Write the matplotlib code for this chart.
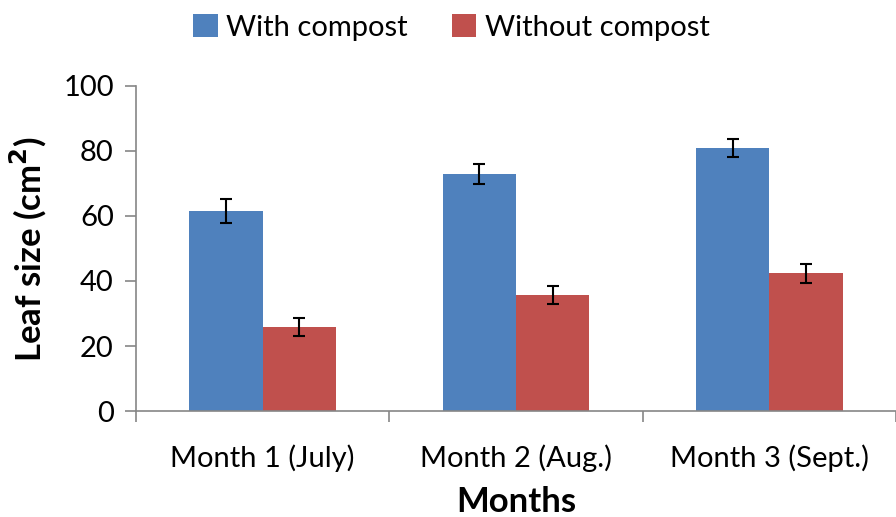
import matplotlib.pyplot as plt
import numpy as np

plt.rcParams['font.family'] = ['Lato', 'DejaVu Sans']

months = ['Month 1 (July)', 'Month 2 (Aug.)', 'Month 3 (Sept.)']
with_compost = [61.5, 72.8, 80.9]
with_err = [3.6, 3.1, 2.9]
without_compost = [25.8, 35.7, 42.4]
without_err = [2.8, 2.7, 2.9]

fig = plt.figure(figsize=(8.96, 5.17), dpi=100)
ax = fig.add_axes([0.1518, 0.205, 0.8482, 0.6287])

x = np.arange(len(months))
w = 0.29
err_kw = dict(ecolor='black', elinewidth=1.5, capsize=4.5, capthick=1.5)
ax.bar(x - w / 2, with_compost, w, yerr=with_err, color='#4F81BD',
       label='With compost', error_kw=err_kw)
ax.bar(x + w / 2, without_compost, w, yerr=without_err, color='#C0504D',
       label='Without compost', error_kw=err_kw)

ax.set_xlim(-0.5, 2.5)
ax.set_ylim(0, 100)
ax.set_yticks(range(0, 101, 20))
ax.set_xticks(x)
ax.set_xticklabels(months, fontsize=21)
ax.set_xticks(np.arange(-0.5, 3, 1), minor=True)
ax.tick_params(axis='x', which='major', length=0, pad=24)
ax.tick_params(axis='x', which='minor', length=8, width=1.2, color='#868686')
ax.tick_params(axis='y', length=8, width=1.2, color='#868686', labelsize=21, pad=8)

for s in ['top', 'right']:
    ax.spines[s].set_visible(False)
for s in ['left', 'bottom']:
    ax.spines[s].set_color('#868686')
    ax.spines[s].set_linewidth(1.2)

ax.set_ylabel('Leaf size (cm$^\\mathbf{2}$)', fontsize=25, fontweight='bold', labelpad=10)
ax.set_xlabel('Months', fontsize=25, fontweight='bold', labelpad=10)

ax.legend(loc='center', bbox_to_anchor=(0.415, 1.18), ncol=2, frameon=False,
          fontsize=21, handlelength=0.85, handleheight=0.85, handletextpad=0.3,
          columnspacing=1.5)

fig.savefig('out.png', dpi=100)
